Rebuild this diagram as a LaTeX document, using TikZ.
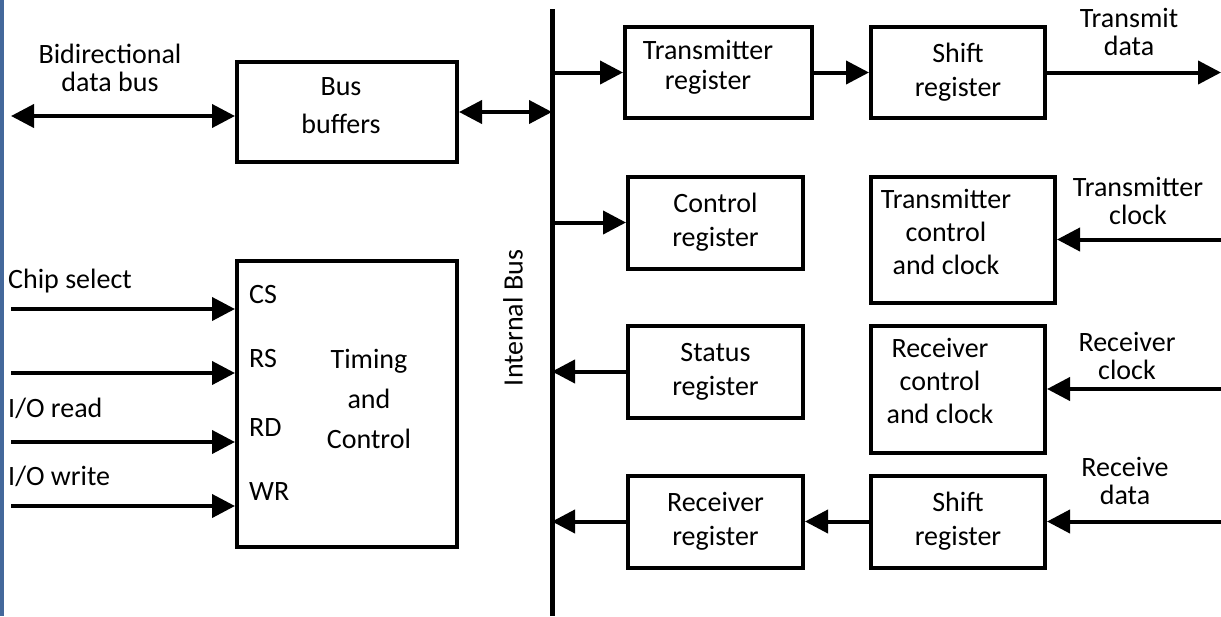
\documentclass[tikz,border=0pt]{standalone}
\usepackage{fontspec}
\setmainfont{Carlito}
\usetikzlibrary{arrows.meta, positioning}
\definecolor{edgecolor}{RGB}{68,104,155}
\tikzset{
    register/.style={
        rectangle, draw, line width=4pt, minimum width=175pt, minimum height=92pt,
        inner sep=2pt, align=center, font=\fontsize{28}{34}\selectfont
    },
    boxtext/.style={align=center, inner sep=0pt, font=\fontsize{28}{33}\selectfont},
    sigtext/.style={align=center, inner sep=0pt, font=\fontsize{28}{28}\selectfont},
    port/.style={anchor=base west, inner sep=0pt, font=\fontsize{28}{34}\selectfont},
    arrow/.style={-{Triangle[length=23pt, width=23pt]}, line width=4pt},
    dblarrow/.style={{Triangle[length=23pt, width=23pt]}-{Triangle[length=23pt, width=23pt]}, line width=4pt},
    bus/.style={line width=5pt}
}

\begin{document}
\begin{tikzpicture}[x=1pt, y=-1pt]
\useasboundingbox (0,0) rectangle (1221,616);
\fill[edgecolor] (0,0) rectangle (4,616);

% Internal bus
\coordinate (bustop) at (552,9);
\coordinate (busbot) at (552,616);
\coordinate (redge) at (1221,0);
\draw[bus] (bustop) -- (busbot);
\node[rotate=90, inner sep=0pt, font=\fontsize{28}{34}\selectfont] (buslbl) at (513,318) {Internal Bus};

% Left side blocks
\node[register, minimum width=220pt, minimum height=100pt] (buffers) at (347,112) {};
\node[boxtext, font=\fontsize{28}{38}\selectfont] (bufferstxt) at (341,106) {Bus\\buffers};
\node[register, minimum width=220pt, minimum height=286pt] (timing) at (347,404) {};
\node[boxtext, font=\fontsize{28}{40}\selectfont] (timingtxt) at (369,399) {Timing\\and\\Control};

% Registers
\node[register, minimum width=187pt, minimum height=91pt] (txreg) at (718.5,72.5) {};
\node[boxtext, font=\fontsize{28}{30}\selectfont] (txregtxt) at (708,67) {Transmitter\\register};
\node[register, right=55pt of txreg, minimum width=174pt, minimum height=91pt] (txshift) {Shift\\register};
\node[register] (ctrlreg) at (715.5,222.5) {Control\\register};
\node[register, below=53pt of ctrlreg] (statreg) {Status\\register};
\node[register, below=54pt of statreg] (rxreg) {Receiver\\register};
\node[register, right=64pt of ctrlreg.north east, anchor=north west, minimum width=184pt, minimum height=126pt] (txctrl) {};
\node[boxtext] (txctrltxt) at (946,232) {Transmitter\\control\\and clock};
\node[register, right=64pt of statreg.north east, anchor=north west, minimum width=174pt, minimum height=127pt] (rxctrl) {};
\node[boxtext] (rxctrltxt) at (940,381) {Receiver\\control\\and clock};
\node[register, right=64pt of rxreg, minimum width=174pt] (rxshift) {Shift\\register};

% Signal labels
\node[sigtext] (dbuslbl) at (110,68) {Bidirectional\\data bus};
\node[sigtext] (txdlbl) at (1129,32) {Transmit\\data};
\node[sigtext] (txclbl) at (1138,201) {Transmitter\\clock};
\node[sigtext] (rxclbl) at (1127,356) {Receiver\\clock};
\node[sigtext] (rxdlbl) at (1125,481) {Receive\\data};
\node[port] (cslbl) at (8,288) {Chip select};
\node[port] (rdlbl) at (8,417) {I/O read};
\node[port] (wrlbl) at (8,485) {I/O write};

% Timing inputs
\foreach \y/\p in {309/CS, 373/RS, 442/RD, 506/WR} {
    \coordinate (in\p) at (11,\y);
    \draw[arrow] (in\p) -- (in\p -| timing.west);
    \node[port] (p\p) at (249,\y-6) {\p};
}

% Data bus arrows
\coordinate (dbus) at (11,116);
\draw[dblarrow] (dbus) -- (dbus -| buffers.west);
\draw[dblarrow] (buffers) -- (buffers -| bustop);
\draw[arrow] (txreg -| bustop) -- (txreg);
\draw[arrow] (txreg) -- (txshift);
\draw[arrow] (txshift) -- (txshift -| redge);
\draw[arrow] (ctrlreg -| bustop) -- (ctrlreg);
\draw[arrow] (txctrl -| redge) -- (txctrl);
\draw[arrow] (statreg) -- (statreg -| bustop);
\draw[arrow] (rxctrl -| redge) -- (rxctrl);
\draw[arrow] (rxreg) -- (rxreg -| bustop);
\draw[arrow] (rxshift) -- (rxreg);
\draw[arrow] (rxshift -| redge) -- (rxshift);

\end{tikzpicture}
\end{document}
